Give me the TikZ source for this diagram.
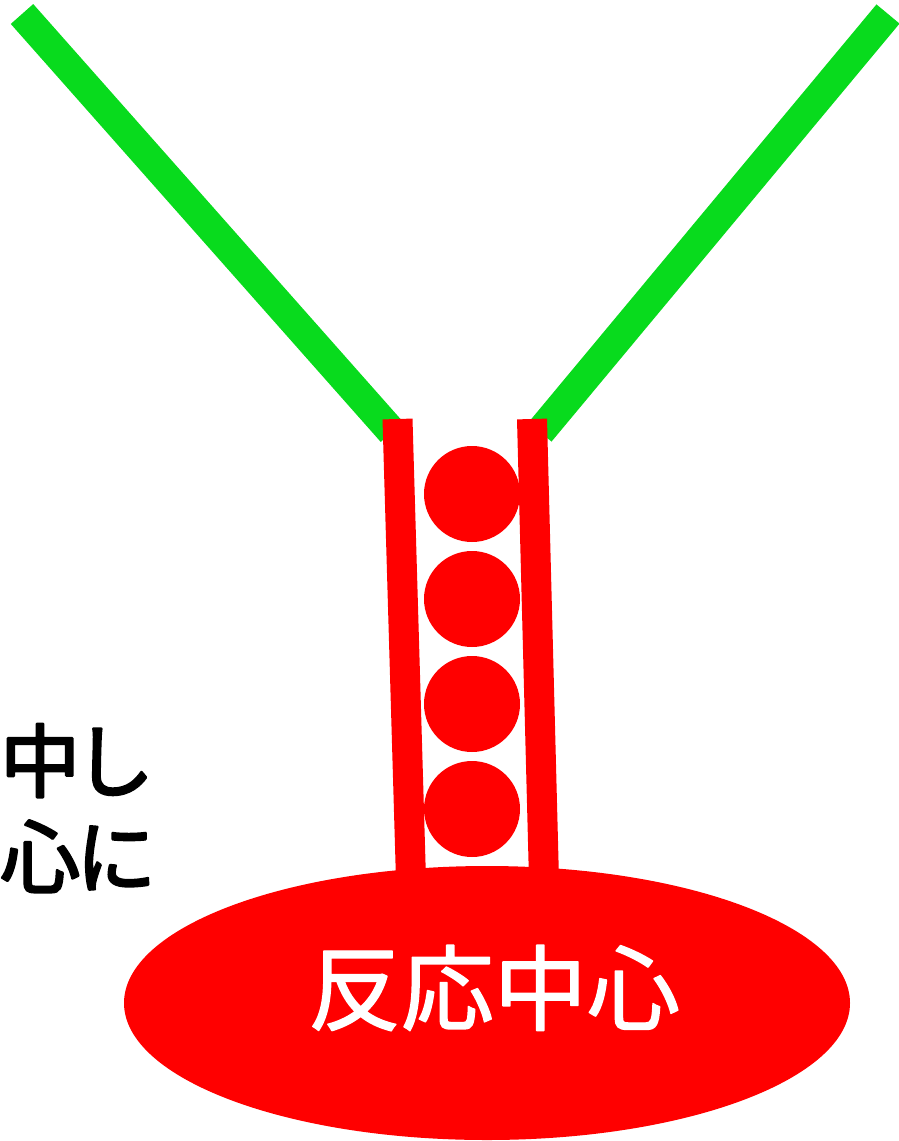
\documentclass[tikz,border=0pt]{standalone}
\usepackage{fontspec}
\newfontfamily\cjkfont{Noto Sans CJK JP}
\newcommand{\heavytext}[2]{\special{pdf:literal direct 2 Tr #1 w 1 j}#2\special{pdf:literal direct 0 Tr}}
\definecolor{leafgreen}{RGB}{8,219,29}
\definecolor{pureRed}{RGB}{255,0,0}
\begin{document}
\begin{tikzpicture}[x=1pt,y=-1pt,
  greenline/.style={draw=leafgreen,line width=30pt,line cap=butt},
  redbar/.style={draw=pureRed,line width=30pt,line cap=butt},
  ball/.style={circle,fill=pureRed,minimum size=96pt,inner sep=0pt},
  lbl/.style={inner sep=0pt,font=\cjkfont\fontsize{80}{96}\selectfont}]
\useasboundingbox (0,0) rectangle (898,1141);
% green arms
\coordinate (gl1) at (22,14);
\coordinate (gl2) at (392,432);
\coordinate (gr1) at (888,14);
\coordinate (gr2) at (540,432);
\draw[greenline] (gl1) -- (gl2);
\draw[greenline] (gr1) -- (gr2);
% red bars
\coordinate (bl1) at (397.5,419);
\coordinate (bl2) at (411,880);
\coordinate (br1) at (532,419);
\coordinate (br2) at (544,880);
\draw[redbar] (bl1) -- (bl2);
\draw[redbar] (br1) -- (br2);
% balls
\node[ball] (b1) at (472,494) {};
\node[ball] (b2) at (472,599) {};
\node[ball] (b3) at (472,704) {};
\node[ball] (b4) at (472,809) {};
% reaction centre
\fill[pureRed] (487,1003) ellipse [x radius=363, y radius=137];
\node[inner sep=0pt,text=white,font=\cjkfont\fontsize{93}{100}\selectfont] (rc) at (494,988) {\heavytext{1.4}{反応中心}};
% side text
\node[lbl,anchor=base west] (t1) at (0,791) {\heavytext{2.4}{中\kern-6pt し}};
\node[lbl,anchor=base west] (t2) at (0,887) {\heavytext{2.4}{心\kern-4pt に}};
\end{tikzpicture}
\end{document}
